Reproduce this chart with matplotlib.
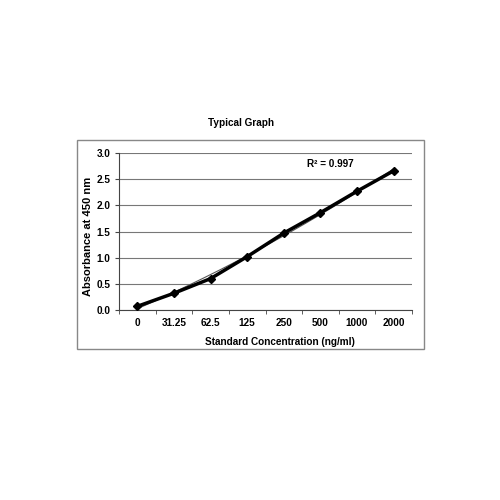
import numpy as np
import matplotlib
matplotlib.use("Agg")
import matplotlib.pyplot as plt
from matplotlib.patches import Rectangle

plt.rcParams['font.family'] = ['Liberation Sans', 'DejaVu Sans']

conc_labels = ['0', '31.25', '62.5', '125', '250', '500', '1000', '2000']
absorbance = [0.07, 0.32, 0.60, 1.02, 1.47, 1.86, 2.27, 2.66]
r2_text = 'R² = 0.997'

x = np.arange(len(conc_labels))

fig = plt.figure(figsize=(5, 5), dpi=100, facecolor='white')
# outer chart box
fig.patches.append(Rectangle((0.154, 0.302), 0.694, 0.418, transform=fig.transFigure,
                             fill=False, edgecolor='#888888', linewidth=1.0))
ax = fig.add_axes([0.238, 0.38, 0.586, 0.314])

# trendline (2nd order polynomial fit)
coef = np.polyfit(x, absorbance, 2)
xf = np.linspace(0, len(x) - 1, 200)
ax.plot(xf, np.polyval(coef, xf), color='#555555', linewidth=0.8, zorder=3)
ax.plot(x, absorbance, color='black', linewidth=2.5, marker='D', markersize=4.5, zorder=4)

ax.set_xlim(-0.5, len(x) - 0.5)
ax.set_ylim(0, 3.0)
ax.set_yticks(np.arange(0, 3.01, 0.5))
ax.set_yticklabels(['%.1f' % v for v in np.arange(0, 3.01, 0.5)], fontsize=7.2, fontweight='bold')
ax.set_xticks(x)
ax.set_xticklabels(conc_labels, fontsize=7.2, fontweight='bold')
ax.tick_params(axis='x', which='major', length=0, pad=6)
ax.set_xticks(np.arange(-0.5, len(x), 1.0), minor=True)
ax.tick_params(axis='x', which='minor', length=3, direction='out', color='#444444')
ax.tick_params(axis='y', length=3, direction='out', color='#444444', pad=3)

ax.grid(axis='y', color='#777777', linewidth=0.8)
ax.set_axisbelow(True)
for s in ['top', 'right']:
    ax.spines[s].set_visible(False)
ax.spines['left'].set_color('#444444')
ax.spines['bottom'].set_color('#444444')

ax.set_xlabel('Standard Concentration (ng/ml)', fontsize=7.2, fontweight='bold')
ax.xaxis.set_label_coords(0.55, -0.172)
ax.set_ylabel('Absorbance at 450 nm', fontsize=8, fontweight='bold', va='center')
ax.yaxis.set_label_coords(-0.106, 0.468)
ax.text(0.64, 0.93, r2_text, transform=ax.transAxes, fontsize=7.2, fontweight='bold',
        ha='left', va='center')

fig.text(0.483, 0.754, 'Typical Graph', fontsize=7.2, fontweight='bold', ha='center', va='center')

plt.savefig('out.png', dpi=100, facecolor='white')
